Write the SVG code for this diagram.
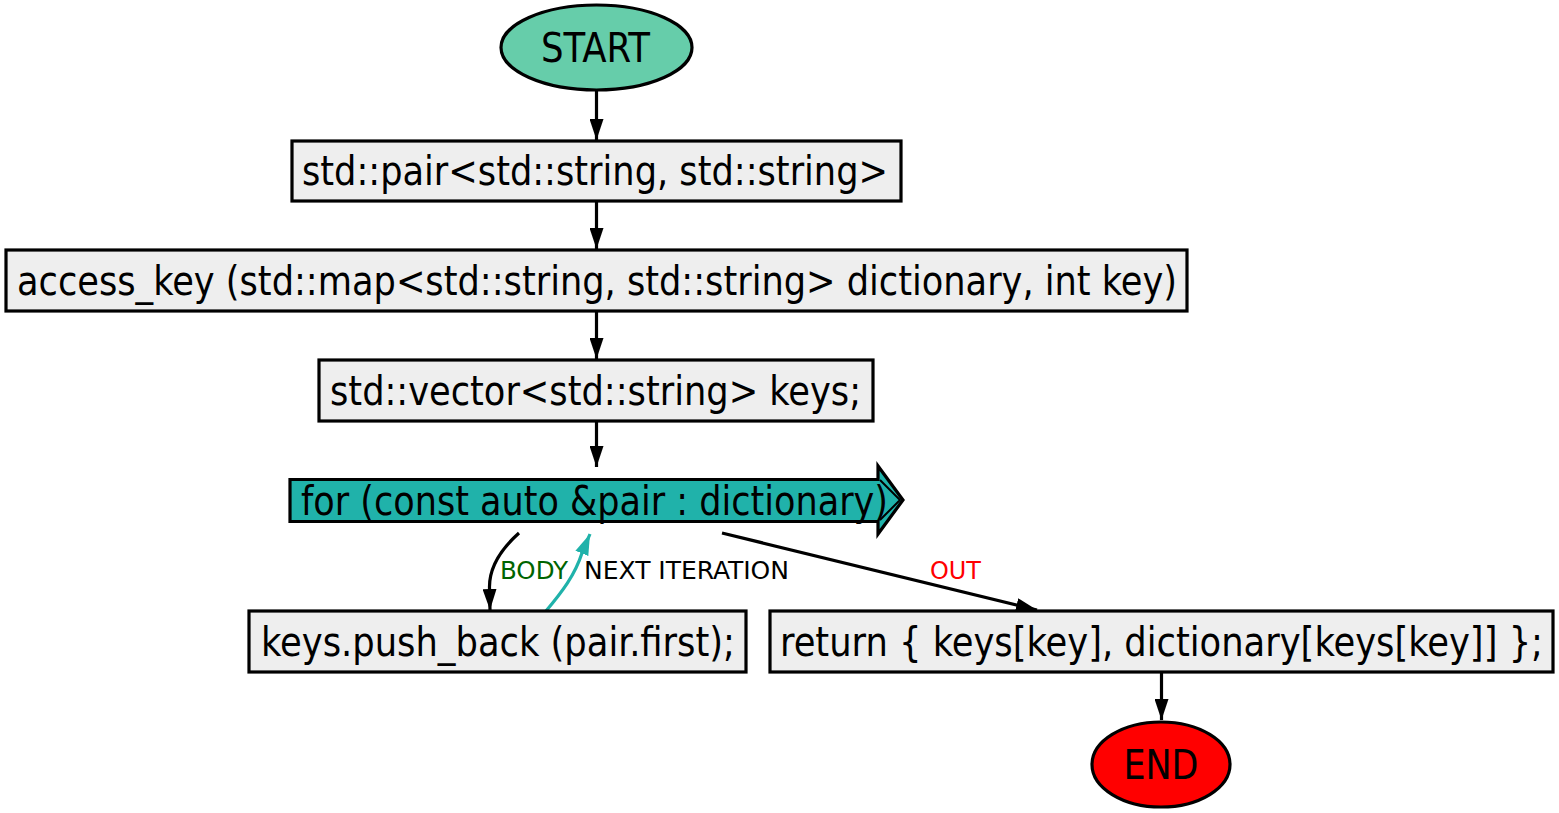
<svg xmlns="http://www.w3.org/2000/svg" width="1559" height="813" viewBox="0 0 1559 813">
<style>
.t{font-family:"DejaVu Sans Condensed","DejaVu Sans",sans-serif;font-size:40px;fill:#000;text-anchor:middle}
.l{font-family:"DejaVu Sans Condensed","DejaVu Sans",sans-serif;font-size:25px;text-anchor:middle}
.box{fill:#eeeeee;stroke:#000;stroke-width:3.2}
.e{fill:none;stroke:#000;stroke-width:3.2}
</style>
<defs>
<marker id="ah" markerWidth="21" markerHeight="14" refX="21" refY="7" orient="auto" markerUnits="userSpaceOnUse">
<path d="M0,0 L21,7 L0,14 Z" fill="#000"/>
</marker>
<marker id="ahc" markerWidth="21" markerHeight="14" refX="21" refY="7" orient="auto" markerUnits="userSpaceOnUse">
<path d="M0,0 L21,7 L0,14 Z" fill="#20b2aa"/>
</marker>
</defs>
<g id="connectors">
<path class="e" d="M596.5,90 L596.5,140" marker-end="url(#ah)"/>
<path class="e" d="M596.5,201 L596.5,249" marker-end="url(#ah)"/>
<path class="e" d="M596.5,311 L596.5,359" marker-end="url(#ah)"/>
<path class="e" d="M596.5,421 L596.5,467" marker-end="url(#ah)"/>
<path class="e" d="M519,533 C500,550 489,568 489.5,588 L490,610" marker-end="url(#ah)"/>
<path d="M546,611 C562,592 575,575 582,553 L590,534" fill="none" stroke="#20b2aa" stroke-width="3.2" marker-end="url(#ahc)"/>
<path class="e" d="M722,533 L1037,610" marker-end="url(#ah)"/>
<path class="e" d="M1161.5,672 L1161.5,720" marker-end="url(#ah)"/>
<text class="l" x="534" y="579" fill="#006400" textLength="68" lengthAdjust="spacingAndGlyphs">BODY</text>
<text class="l" x="686.5" y="579" fill="#000" textLength="205" lengthAdjust="spacingAndGlyphs">NEXT ITERATION</text>
<text class="l" x="955.5" y="579" fill="#ff0000" textLength="51" lengthAdjust="spacingAndGlyphs">OUT</text>
</g>
<g id="start">
<ellipse cx="596.5" cy="47.5" rx="95.5" ry="42.5" fill="#66cdaa" stroke="#000" stroke-width="3.2"/>
<text class="t" x="595.5" y="62" textLength="109" lengthAdjust="spacingAndGlyphs">START</text>
</g>
<g id="pair">
<rect class="box" x="292" y="141" width="609" height="60"/>
<text class="t" x="595" y="185" textLength="586" lengthAdjust="spacingAndGlyphs">std::pair&lt;std::string, std::string&gt;</text>
</g>
<g id="access_key">
<rect class="box" x="6" y="250" width="1181" height="61"/>
<text class="t" x="597" y="295" textLength="1160" lengthAdjust="spacingAndGlyphs">access_key (std::map&lt;std::string, std::string&gt; dictionary, int key)</text>
</g>
<g id="keys_decl">
<rect class="box" x="319" y="360" width="554" height="61"/>
<text class="t" x="595.5" y="405" textLength="531" lengthAdjust="spacingAndGlyphs">std::vector&lt;std::string&gt; keys;</text>
</g>
<g id="for_loop">
<polygon points="290,479.5 878,479.5 878,466 903,500 878,534 878,521.5 290,521.5" fill="#20b2aa" stroke="#000" stroke-width="3.2"/>
<polyline points="880,480 900,500 880,520" fill="none" stroke="#000" stroke-width="2"/>
<text class="t" x="594.5" y="515" textLength="587" lengthAdjust="spacingAndGlyphs">for (const auto &amp;pair : dictionary)</text>
</g>
<g id="push_back">
<rect class="box" x="249" y="611" width="497" height="61"/>
<text class="t" x="498" y="656" textLength="474" lengthAdjust="spacingAndGlyphs">keys.push_back (pair.first);</text>
</g>
<g id="return">
<rect class="box" x="770" y="611" width="783" height="61"/>
<text class="t" x="1161.5" y="656" textLength="763" lengthAdjust="spacingAndGlyphs">return { keys[key], dictionary[keys[key]] };</text>
</g>
<g id="end">
<ellipse cx="1161" cy="764.5" rx="69" ry="42.5" fill="#ff0000" stroke="#000" stroke-width="3.2"/>
<text class="t" x="1161" y="779" textLength="75" lengthAdjust="spacingAndGlyphs">END</text>
</g>
</svg>
